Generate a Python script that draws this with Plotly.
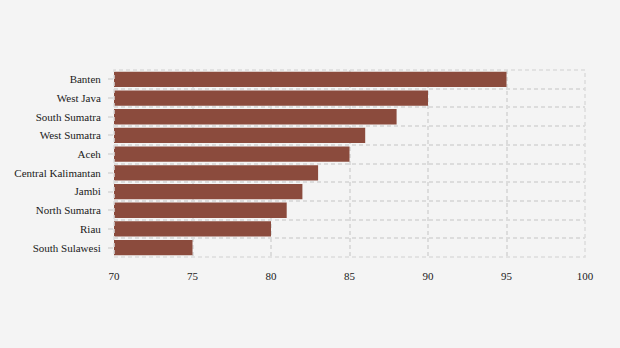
import plotly.graph_objects as go

# Provinces, ordered top to bottom
provinces = ["Banten", "West Java", "South Sumatra", "West Sumatra", "Aceh",
             "Central Kalimantan", "Jambi", "North Sumatra", "Riau", "South Sulawesi"]
scores = [95, 90, 88, 86, 85, 83, 82, 81, 80, 75]
x_ticks = [70, 75, 80, 85, 90, 95, 100]

n = len(provinces)
ypos = list(range(n))
boundaries = [i - 0.5 for i in range(n + 1)]

grid_color = "#dcdcdc"
grid_dash = "4px,3px"

fig = go.Figure(go.Bar(
    x=scores,
    y=ypos,
    orientation="h",
    marker=dict(color="#8b4b3d", line=dict(width=0)),
    width=0.82,
    hovertemplate="%{text}: %{x}<extra></extra>",
    text=provinces,
    textposition="none",
))

# dashed frame around the plotting area
fig.add_shape(type="rect", xref="paper", yref="paper", x0=0, x1=1, y0=0, y1=1,
              line=dict(color=grid_color, width=1.5, dash=grid_dash), layer="above")

fig.update_layout(
    width=620, height=348,
    margin=dict(l=114, r=35, t=70, b=91),
    paper_bgcolor="#f4f4f4",
    plot_bgcolor="#f4f4f4",
    font=dict(family="Liberation Serif", size=11, color="#1a1a1a"),
    showlegend=False,
    xaxis=dict(
        range=[70, 100],
        tickvals=x_ticks,
        showgrid=True, gridcolor=grid_color, gridwidth=1.5, griddash=grid_dash,
        zeroline=False, showline=False, ticks="",
        ticklabelstandoff=11,
    ),
    yaxis=dict(
        range=[n - 0.5, -0.5],
        tickvals=ypos, ticktext=provinces,
        showgrid=False, zeroline=False, showline=False,
        ticks="outside", ticklen=5, tickcolor="#dddddd", tickwidth=1.5,
        ticklabelstandoff=5,
        minor=dict(tickvals=boundaries, showgrid=True, gridcolor=grid_color,
                   gridwidth=1.5, griddash=grid_dash, ticks=""),
    ),
)

fig.write_html("out.html")
